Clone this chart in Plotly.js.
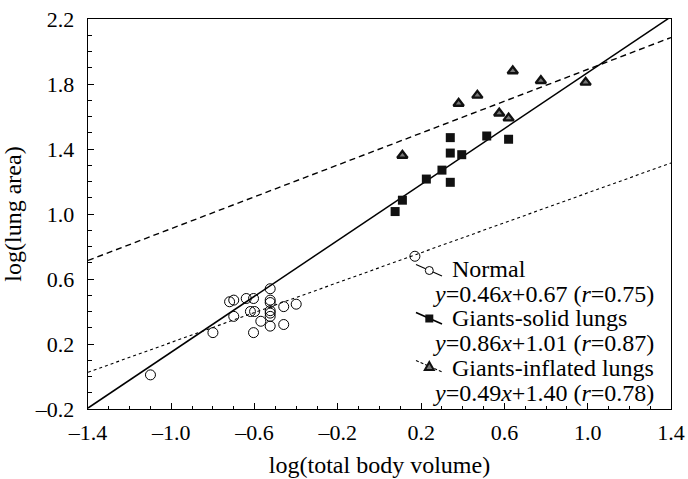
<!DOCTYPE html>
<html>
<head>
<meta charset="utf-8">
<script src="https://cdn.plot.ly/plotly-3.0.1.min.js"></script>
<style>html,body{margin:0;padding:0;background:#fff;}#chart{width:688px;height:479px;}</style>
</head>
<body>
<div id="chart"></div>
<script>
// ---- data ----
const normalX = [-1.10, -0.80, -0.72, -0.70, -0.70, -0.64, -0.605, -0.62, -0.60, -0.605, -0.57, -0.525, -0.525, -0.525, -0.525, -0.525, -0.525, -0.525, -0.46, -0.46, -0.40, 0.17];
const normalY = [0.01, 0.27, 0.46, 0.47, 0.37, 0.48, 0.48, 0.40, 0.40, 0.27, 0.34, 0.54, 0.47, 0.455, 0.405, 0.39, 0.37, 0.31, 0.43, 0.32, 0.445, 0.74];
const solidX = [0.075, 0.11, 0.225, 0.30, 0.34, 0.34, 0.34, 0.395, 0.515, 0.62];
const solidY = [1.015, 1.085, 1.215, 1.27, 1.195, 1.375, 1.47, 1.365, 1.48, 1.46];
const inflX = [0.11, 0.38, 0.47, 0.575, 0.62, 0.64, 0.775, 0.99];
const inflY = [1.36, 1.68, 1.73, 1.62, 1.59, 1.88, 1.82, 1.81];
const seriesNames = ['Normal', 'Giants-solid lungs', 'Giants-inflated lungs'];
const slopes = [0.46, 0.86, 0.49];
const intercepts = [0.67, 1.01, 1.40];
const rValues = [0.75, 0.87, 0.78];
const xRange = [-1.4, 1.4];
const yRange = [-0.2, 2.2];
const xTickVals = [-1.4, -1.0, -0.6, -0.2, 0.2, 0.6, 1.0, 1.4];
const xTickText = ['–1.4', '–1.0', '–0.6', '–0.2', '0.2', '0.6', '1.0', '1.4'];
const yTickVals = [-0.2, 0.2, 0.6, 1.0, 1.4, 1.8, 2.2];
const yTickText = ['–0.2', '0.2', '0.6', '1.0', '1.4', '1.8', '2.2'];

// ---- layout geometry ----
const W = 688, H = 479;
const M = {l: 88, r: 17, t: 19, b: 70};
const PW = W - M.l - M.r, PH = H - M.t - M.b;
const FONT = 'Liberation Serif, Times New Roman, serif';
const fx = p => (p - M.l) / PW;
const fy = p => (H - M.b - p) / PH;

const lineStyles = [
  {color: '#000', width: 1.1, dash: 'dot'},
  {color: '#000', width: 1.5, dash: 'solid'},
  {color: '#000', width: 1.4, dash: '6px,4px'}
];
const markerStyles = [
  {symbol: 'circle-open', size: 10, color: '#000', line: {width: 1, color: '#000'}},
  {symbol: 'square', size: 9, color: '#111', line: {width: 0}},
  {symbol: 'triangle-up', size: 9, color: '#777', line: {width: 2.3, color: '#111'}}
];

const pts = [[normalX, normalY], [solidX, solidY], [inflX, inflY]];
const traces = [];
for (let i = 0; i < 3; i++) {
  traces.push({
    x: xRange, y: xRange.map(v => slopes[i] * v + intercepts[i]),
    mode: 'lines', line: lineStyles[i], hoverinfo: 'skip', showlegend: false
  });
}
for (let i = 0; i < 3; i++) {
  traces.push({
    x: pts[i][0], y: pts[i][1], mode: 'markers', name: seriesNames[i],
    marker: markerStyles[i], showlegend: false, cliponaxis: false
  });
}

// ---- custom legend (glyphs + texts) ----
const glyphY = [270.5, 318.5, 366.5];
const nameY = [268.5, 318, 367.5];
const eqY = [294, 343, 393];
const shapes = [];
const annotations = [];
for (let i = 0; i < 3; i++) {
  const gy = glyphY[i];
  shapes.push({type: 'line', xref: 'paper', yref: 'paper',
    x0: fx(416), y0: fy(gy - 6), x1: fx(442), y1: fy(gy + 5.5),
    line: {color: '#000', width: i === 1 ? 1.6 : 1.1, dash: i === 2 ? '3px,2px' : 'solid'}});
}
// glyph markers
shapes.push({type: 'circle', xref: 'paper', yref: 'paper', xsizemode: 'pixel', ysizemode: 'pixel',
  xanchor: fx(429.3), yanchor: fy(glyphY[0]), x0: -4, x1: 4, y0: -4, y1: 4,
  fillcolor: '#fff', line: {color: '#000', width: 1}});
shapes.push({type: 'rect', xref: 'paper', yref: 'paper', xsizemode: 'pixel', ysizemode: 'pixel',
  xanchor: fx(429.3), yanchor: fy(glyphY[1]), x0: -4, x1: 4, y0: -4, y1: 4,
  fillcolor: '#111', line: {width: 0}});
shapes.push({type: 'path', xref: 'paper', yref: 'paper', xsizemode: 'pixel', ysizemode: 'pixel',
  xanchor: fx(429.3), yanchor: fy(glyphY[2]), path: 'M-4.5,-3.5 L4.5,-3.5 L0,4.5 Z',
  fillcolor: '#777', line: {color: '#111', width: 2}});

const LFS = 24;
for (let i = 0; i < 3; i++) {
  annotations.push({xref: 'paper', yref: 'paper', x: fx(450), y: fy(nameY[i]),
    xanchor: 'left', yanchor: 'middle', showarrow: false, text: seriesNames[i],
    font: {family: FONT, size: LFS, color: '#000'}});
  const eq = '<i>y</i>=' + slopes[i].toFixed(2) + '<i>x</i>+' + intercepts[i].toFixed(2) +
    ' (<i>r</i>=' + rValues[i].toFixed(2) + ')';
  annotations.push({xref: 'paper', yref: 'paper', x: fx(431), y: fy(eqY[i]),
    xanchor: 'left', yanchor: 'middle', showarrow: false, text: eq,
    font: {family: FONT, size: LFS, color: '#000'}});
}

const axisCommon = {
  showgrid: false, zeroline: false, showline: true, linecolor: '#000', linewidth: 1.3,
  mirror: true, ticks: 'inside', ticklen: 6, tickwidth: 1, tickcolor: '#000',
  tickmode: 'array', tickfont: {family: FONT, size: 22, color: '#000'},
  minor: {ticks: 'inside', ticklen: 3.5, tickwidth: 1, tickcolor: '#000', dtick: 0.1}
};

const layout = {
  width: W, height: H, margin: M,
  paper_bgcolor: '#fff', plot_bgcolor: '#fff',
  showlegend: false,
  xaxis: Object.assign({}, axisCommon, {
    range: xRange, tickvals: xTickVals, ticktext: xTickText,
    minor: Object.assign({}, axisCommon.minor, {tick0: -1.4}),
    ticklabelstandoff: 3,
    title: {text: 'log(total body volume)', font: {family: FONT, size: 24, color: '#000'}, standoff: 12}
  }),
  yaxis: Object.assign({}, axisCommon, {
    range: yRange, tickvals: yTickVals, ticktext: yTickText,
    minor: Object.assign({}, axisCommon.minor, {tick0: -0.2}),
    ticklabelstandoff: 8,
    title: {text: 'log(lung area)', font: {family: FONT, size: 24, color: '#000'}, standoff: 8}
  }),
  shapes: shapes,
  annotations: annotations
};

Plotly.newPlot('chart', traces, layout, {staticPlot: true, displayModeBar: false});
</script>
</body>
</html>
